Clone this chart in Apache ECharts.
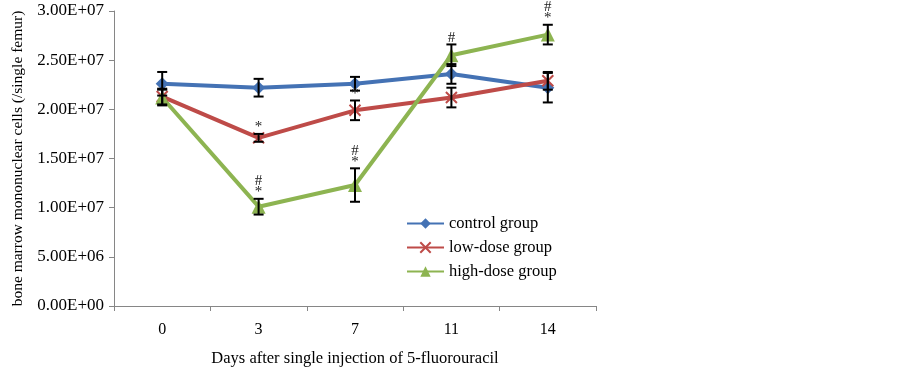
<!DOCTYPE html>
<html>
<head>
<meta charset="utf-8">
<script src="https://cdn.jsdelivr.net/npm/echarts@6/dist/echarts.min.js"></script>
<style>
    html, body { margin: 0; padding: 0; background: #fff; }
    #main { width: 902px; height: 367px; }
</style>
</head>
<body>
<div id="main"></div>
<script>
var days = ['0', '3', '7', '11', '14'];
var seriesNames = ['control group', 'low-dose group', 'high-dose group'];
var controlMean = [2.26e7, 2.22e7, 2.26e7, 2.36e7, 2.22e7];
var controlErr = [1.2e6, 0.9e6, 0.7e6, 1.0e6, 1.5e6];
var lowMean = [2.13e7, 1.71e7, 1.99e7, 2.12e7, 2.29e7];
var lowErr = [0.8e6, 0.4e6, 1.0e6, 1.0e6, 0.9e6];
var highMean = [2.12e7, 1.01e7, 1.23e7, 2.55e7, 2.76e7];
var highErr = [0.8e6, 0.8e6, 1.7e6, 1.1e6, 1.0e6];
// significance marks above the error bars
var lowMarks = ['', '*', '*', '', ''];
var highMarks = ['', '#\n*', '#\n*', '#', '#\n*'];

var FONT = '"Liberation Serif", "Times New Roman", serif';
var colors = ['#4472B4', '#BE4B48', '#8DB451'];

function fmtE(v) {
    var s = v.toExponential(2).toUpperCase();
    return s.replace(/E([+-])(\d)$/, 'E$10$2');
}

function errData(mean, err, marks) {
    return mean.map(function(m, i) {
        return [i, m - err[i], m + err[i], marks ? marks[i] : ''];
    });
}

function renderErr(params, api) {
    var x = api.value(0);
    var lo = api.coord([x, api.value(1)]);
    var hi = api.coord([x, api.value(2)]);
    var mark = api.value(3);
    var w = 5;
    var style = { stroke: '#000', lineWidth: 2 };
    var children = [
        { type: 'line', shape: { x1: lo[0], y1: lo[1], x2: hi[0], y2: hi[1] }, style: style },
        { type: 'line', shape: { x1: lo[0] - w, y1: lo[1], x2: lo[0] + w, y2: lo[1] }, style: style },
        { type: 'line', shape: { x1: hi[0] - w, y1: hi[1], x2: hi[0] + w, y2: hi[1] }, style: style }
    ];
    if (mark) {
        children.push({
            type: 'text',
            style: {
                x: hi[0], y: hi[1] - 1, text: mark, fill: '#222',
                font: '15px ' + FONT, align: 'center', verticalAlign: 'bottom', lineHeight: 11
            }
        });
    }
    return { type: 'group', children: children };
}

var myChart = echarts.init(document.getElementById('main'));
var option = {
    animation: false,
    backgroundColor: '#fff',
    textStyle: { fontFamily: FONT },
    grid: { left: 114, right: 306, top: 11, bottom: 61, outerBoundsMode: 'none', containLabel: false },
    legend: {
        orient: 'vertical',
        left: 401,
        top: 210,
        itemWidth: 37,
        itemHeight: 13,
        itemGap: 7,
        data: seriesNames,
        textStyle: { fontFamily: FONT, fontSize: 16.5, lineHeight: 16, color: '#000' }
    },
    xAxis: {
        type: 'category',
        data: days,
        boundaryGap: true,
        name: 'Days after single injection of 5-fluorouracil',
        nameLocation: 'middle',
        nameGap: 44,
        nameTextStyle: { fontFamily: FONT, fontSize: 16.5, color: '#000' },
        axisLine: { lineStyle: { color: '#868686', width: 1 } },
        axisTick: { show: true, length: 5, lineStyle: { color: '#868686' } },
        axisLabel: { fontFamily: FONT, fontSize: 16, color: '#000', margin: 16 }
    },
    yAxis: {
        type: 'value',
        min: 0,
        max: 3e7,
        interval: 5e6,
        name: 'bone marrow mononuclear cells (/single femur)',
        nameLocation: 'middle',
        nameGap: 88,
        nameTextStyle: { fontFamily: FONT, fontSize: 15.5, color: '#000' },
        axisLine: { show: true, lineStyle: { color: '#868686', width: 1 } },
        axisTick: { show: true, length: 5, lineStyle: { color: '#868686' } },
        splitLine: { show: false },
        axisLabel: {
            fontFamily: FONT, fontSize: 17, color: '#000', margin: 10,
            formatter: function(v) { return fmtE(v); }
        }
    },
    series: [{
        name: seriesNames[0],
        type: 'line',
        data: controlMean,
        symbol: 'diamond',
        symbolSize: 13,
        lineStyle: { color: colors[0], width: 4 },
        itemStyle: { color: colors[0] },
        z: 3
    }, {
        name: seriesNames[1],
        type: 'line',
        data: lowMean,
        symbol: 'path://M0,0 L10,10 M10,0 L0,10',
        symbolSize: 11,
        lineStyle: { color: colors[1], width: 4 },
        itemStyle: { color: colors[1], borderColor: colors[1], borderWidth: 2 },
        z: 3
    }, {
        name: seriesNames[2],
        type: 'line',
        data: highMean,
        symbol: 'triangle',
        symbolSize: 14,
        lineStyle: { color: colors[2], width: 4 },
        itemStyle: { color: colors[2] },
        z: 3
    }, {
        type: 'custom',
        renderItem: renderErr,
        data: errData(controlMean, controlErr),
        z: 5
    }, {
        type: 'custom',
        renderItem: renderErr,
        data: errData(lowMean, lowErr, lowMarks),
        z: 5
    }, {
        type: 'custom',
        renderItem: renderErr,
        data: errData(highMean, highErr, highMarks),
        z: 5
    }]
};
myChart.setOption(option);
</script>
</body>
</html>
